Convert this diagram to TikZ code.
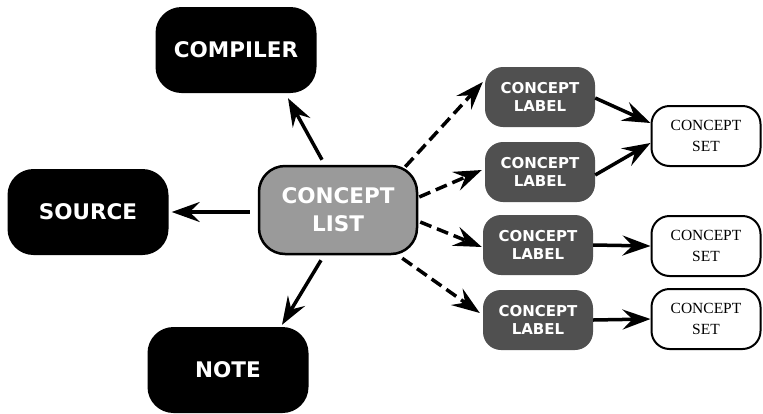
\documentclass[tikz,border=0pt]{standalone}
\usepackage{fontspec}
\setmainfont{Liberation Serif}
\newfontfamily\boxfont{DejaVu Sans}
\usetikzlibrary{arrows.meta}
\definecolor{listgray}{RGB}{154,154,154}
\definecolor{labelgray}{RGB}{80,80,80}
\tikzset{
  bigbox/.style={fill=black, rounded corners=26pt, minimum width=161pt, minimum height=86pt, inner sep=0pt,
    text=white, font=\boxfont\bfseries\fontsize{21.5}{28}\selectfont, align=center},
  listbox/.style={fill=listgray, draw=black, line width=2.5pt, rounded corners=26pt, minimum width=158pt, minimum height=88pt,
    inner sep=0pt, text=white, font=\boxfont\bfseries\fontsize{21.5}{28}\selectfont, align=center},
  labelbox/.style={fill=labelgray, rounded corners=18pt, minimum width=110pt, minimum height=60pt, inner sep=0pt,
    text=white, font=\boxfont\bfseries\fontsize{15}{18.5}\selectfont, align=center},
  setbox/.style={fill=white, draw=black, line width=2pt, rounded corners=18pt, minimum width=109pt, minimum height=60pt,
    inner sep=0pt, font=\fontsize{15.5}{21.5}\selectfont, align=center},
  arr/.style={line width=3.5pt, -{Stealth[length=28pt,width=20pt,inset=10pt]}},
  darr/.style={arr, dash pattern=on 12pt off 6pt},
}
\begin{document}
\begin{tikzpicture}[x=1pt,y=-1pt]
\useasboundingbox (0,0) rectangle (763,413);
\node[bigbox] (comp) at (236,50) {COMPILER};
\node[bigbox] (src) at (88,212) {SOURCE};
\node[bigbox] (note) at (228,370) {NOTE};
\node[listbox] (cl) at (338,210) {CONCEPT\\LIST};
\node[labelbox] (l1) at (540,97) {CONCEPT\\LABEL};
\node[labelbox] (l2) at (540,172) {CONCEPT\\LABEL};
\node[labelbox] (l3) at (538,245) {CONCEPT\\LABEL};
\node[labelbox] (l4) at (538,320) {CONCEPT\\LABEL};
\node[setbox] (s1) at (706,136) {CONCEPT\\SET};
\node[setbox] (s2) at (706,246) {CONCEPT\\SET};
\node[setbox] (s3) at (706,319) {CONCEPT\\SET};

\draw[arr] ([xshift=-16pt,yshift=5pt]cl.north) -- ([xshift=52pt,yshift=-5pt]comp.south);
\draw[arr] ([xshift=-8pt,yshift=-2pt]cl.west) -- ([xshift=3pt]src.east);
\draw[arr] ([xshift=-17pt,yshift=-5pt]cl.south) -- ([xshift=54pt,yshift=2pt]note.north);

\draw[darr] ([xshift=-13pt,yshift=-2pt]cl.north east) -- ([xshift=-2pt,yshift=15pt]l1.west);
\draw[darr] ([xshift=1pt,yshift=13pt]cl.east) -- ([xshift=-3pt,yshift=2pt]l2.west);
\draw[darr] ([xshift=2pt,yshift=-12pt]cl.east) -- ([xshift=-1pt,yshift=-2pt]l3.west);
\draw[darr] ([xshift=-16pt,yshift=-3pt]cl.south east) -- ([xshift=-3pt,yshift=7pt]l4.west);

\draw[arr] ([yshift=-1pt]l1.east) -- ([yshift=13pt]s1.west);
\draw[arr] ([yshift=-3pt]l2.east) -- ([yshift=-7pt]s1.west);
\draw[arr] (l3.east) -- (s2.west);
\draw[arr] (l4.east) -- (s3.west);
\end{tikzpicture}
\end{document}
